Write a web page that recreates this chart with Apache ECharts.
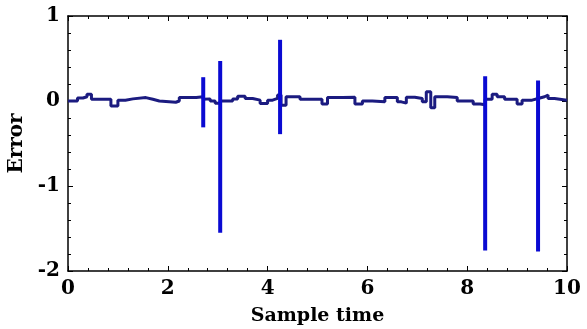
<!DOCTYPE html>
<html>
<head>
<meta charset="utf-8">
<script src="https://cdn.jsdelivr.net/npm/echarts@6/dist/echarts.min.js"></script>
<style>
  html, body { margin: 0; padding: 0; background: #fff; }
  #chart { width: 587px; height: 329px; }
</style>
</head>
<body>
<div id="chart"></div>
<script>
// Tracking error (held between samples)
const errTime = [0, 0.19, 0.3, 0.38, 0.47, 0.7, 0.86, 1.0, 1.15, 1.3, 1.56, 1.7, 1.83, 2.16, 2.23, 2.57,
  2.71, 2.75, 2.85, 2.95, 3.05, 3.1, 3.3, 3.4, 3.55, 3.7, 3.85, 4.0, 4.1, 4.2, 4.27, 4.37, 4.65, 4.9,
  5.09, 5.2, 5.5, 5.75, 5.9, 6.1, 6.35, 6.6, 6.68, 6.78, 6.95, 7.1, 7.18, 7.27, 7.35, 7.6, 7.8,
  8.12, 8.26, 8.36, 8.4, 8.5, 8.6, 8.75, 9.0, 9.1, 9.3, 9.42, 9.45, 9.55, 9.62, 9.75, 10];
const errValue = [0.0, 0.035, 0.05, 0.08, 0.02, 0.02, -0.06, 0.01, 0.025, 0.04, 0.02, 0.0, -0.015, 0.0, 0.04, 0.05,
  0.02, 0.025, 0.0, -0.025, 0.0, 0.0, 0.025, 0.055, 0.03, 0.01, -0.03, 0.01, 0.03, 0.07, -0.05, 0.05, 0.02, 0.02,
  -0.035, 0.04, 0.045, -0.035, 0.0, -0.01, 0.04, -0.01, -0.025, 0.045, 0.03, -0.01, 0.11, -0.08, 0.05, 0.04, 0.0,
  -0.035, -0.045, 0.02, 0.02, 0.08, 0.05, 0.02, -0.035, 0.01, 0.03, 0.05, 0.05, 0.07, 0.03, 0.01, 0.01];

// Transient spikes: time, peak and trough
const spikeTime = [2.71, 3.05, 4.25, 8.36, 9.42];
const spikeHigh = [0.28, 0.47, 0.72, 0.29, 0.24];
const spikeLow = [-0.31, -1.55, -0.39, -1.76, -1.77];

const xTicks = { min: 0, max: 10, interval: 2 };
const yTicks = { min: -2, max: 1, interval: 1 };

const FONT = '"DejaVu Serif", serif';
const chart = echarts.init(document.getElementById('chart'), null, { renderer: 'canvas' });

function axisCommon(extra) {
  return Object.assign({
    type: 'value',
    axisLine: { show: true, onZero: false, lineStyle: { color: '#000', width: 1.5 } },
    axisTick: { show: true, inside: true, length: 5, lineStyle: { color: '#000', width: 1 } },
    minorTick: { show: true, splitNumber: 5, length: 3, lineStyle: { color: '#000', width: 1 } },
    splitLine: { show: false },
    minorSplitLine: { show: false }
  }, extra);
}

const baseLabel = { color: '#000', fontFamily: FONT, fontSize: 20, fontWeight: 'bold' };

const spikeSeries = spikeTime.map((t, i) => ({
  type: 'line',
  xAxisIndex: 0,
  yAxisIndex: 0,
  data: [[t, spikeHigh[i]], [t, spikeLow[i]]],
  showSymbol: false,
  lineStyle: { color: '#0a0ad2', width: 4 },
  z: 3,
  silent: true,
  animation: false
}));

chart.setOption({
  backgroundColor: '#fff',
  animation: false,
  grid: { left: 68, right: 20, top: 16, bottom: 58, outerBoundsMode: 'none' },
  xAxis: [
    axisCommon(Object.assign({}, xTicks, {
      position: 'bottom',
      name: 'Sample time',
      nameLocation: 'middle',
      nameGap: 36,
      nameTextStyle: { color: '#000', fontFamily: FONT, fontSize: 19, fontWeight: 'bold' },
      axisLabel: Object.assign({ margin: 8 }, baseLabel)
    })),
    axisCommon(Object.assign({}, xTicks, { position: 'top', axisLabel: { show: false } }))
  ],
  yAxis: [
    axisCommon(Object.assign({}, yTicks, {
      position: 'left',
      name: 'Error',
      nameLocation: 'middle',
      nameGap: 40,
      nameTextStyle: { color: '#000', fontFamily: FONT, fontSize: 20, fontWeight: 'bold' },
      axisLabel: Object.assign({ margin: 8 }, baseLabel)
    })),
    axisCommon(Object.assign({}, yTicks, { position: 'right', axisLabel: { show: false } }))
  ],
  series: [{
    type: 'line',
    xAxisIndex: 0,
    yAxisIndex: 0,
    step: 'end',
    data: errTime.map((t, i) => [t, errValue[i]]),
    showSymbol: false,
    lineStyle: { color: '#1b1b80', width: 3 },
    z: 2,
    silent: true
  }].concat(spikeSeries)
});
</script>
</body>
</html>
